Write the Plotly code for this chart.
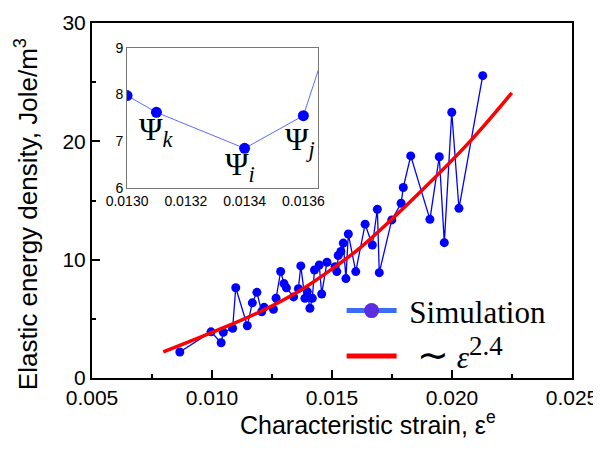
import plotly.graph_objects as go

# Simulation data (characteristic strain, elastic energy density)
strain = [0.00866, 0.00996, 0.01038, 0.01047, 0.01086, 0.01099, 0.01147, 0.01168,
          0.01187, 0.01207, 0.01217, 0.01256, 0.01267, 0.01286, 0.01300, 0.01310,
          0.01340, 0.01360, 0.01370, 0.01387, 0.01397, 0.01408, 0.01418, 0.01427,
          0.01447, 0.01457, 0.01479, 0.01513, 0.01520, 0.01526, 0.01537, 0.01547,
          0.01558, 0.01568, 0.01599, 0.01638, 0.01668, 0.01689, 0.01697, 0.01749,
          0.01788, 0.01797, 0.01828, 0.01908, 0.01947, 0.01968, 0.01999, 0.02029,
          0.02128]
energy = [2.2, 3.9, 2.98, 3.86, 4.2, 7.63, 4.42, 6.35,
          7.24, 5.6, 5.97, 5.8, 6.75, 9.0, 7.98, 7.62,
          6.85, 7.55, 9.47, 6.73, 7.3, 5.89, 6.73, 9.13,
          9.55, 7.1, 9.78, 9.41, 8.99, 10.35, 10.7, 11.4,
          8.4, 12.17, 8.99, 13.0, 11.24, 14.26, 8.9, 13.36,
          14.77, 16.1, 18.77, 13.41, 18.7, 11.44, 22.46, 14.34,
          25.55]

# Power-law fit curve
fit_strain = [0.00797, 0.0100, 0.0120, 0.01367, 0.01533, 0.01617, 0.01846, 0.02075, 0.02249]
fit_energy = [2.2, 3.85, 5.6, 7.4, 9.7, 11.0, 15.3, 20.0, 24.1]

x_ticks = [0.005, 0.010, 0.015, 0.020, 0.025]
y_ticks = [0, 10, 20, 30]
inset_x_ticks = [0.0130, 0.0132, 0.0134, 0.0136]
inset_y_ticks = [6, 7, 8, 9]

x_title = "Characteristic strain, ε<sup>e</sup>"
y_title = "Elastic energy density, Jole/m<sup>3</sup>"

# Inset labels
psi_labels = ["Ψ<sub><i>k</i></sub>", "Ψ<sub><i>i</i></sub>", "Ψ<sub><i>j</i></sub>"]
psi_x = [0.013100, 0.013385, 0.013590]
psi_y = [7.22, 6.46, 7.0]

fig = go.Figure()

fig.add_trace(go.Scatter(x=strain, y=energy, mode="lines+markers",
                         line=dict(color="#0000ff", width=1.3),
                         marker=dict(color="#0000ff", size=9),
                         showlegend=False))
fig.add_trace(go.Scatter(x=fit_strain, y=fit_energy, mode="lines",
                         line=dict(color="#ff0000", width=3.5, shape="spline"),
                         showlegend=False))
# inset
fig.add_trace(go.Scatter(x=strain, y=energy, mode="lines+markers",
                         xaxis="x2", yaxis="y2",
                         line=dict(color="#5a6cff", width=1),
                         marker=dict(color="#0000ff", size=11),
                         showlegend=False))
# legend entries
fig.add_trace(go.Scatter(x=[None], y=[None], mode="lines+markers", name=" Simulation",
                         legendgroup="a",
                         line=dict(color="#3b6ef5", width=5),
                         marker=dict(color="#5b2fe0", size=15)))
fig.add_trace(go.Scatter(x=[None], y=[None], mode="lines",
                         name="  <span style='font-size:38px'>∼</span> <i>ε</i><sup><span style='font-size:27px'>2.4</span></sup>",
                         legendgroup="b",
                         line=dict(color="#ff0000", width=5)))

for t, xx, yy in zip(psi_labels, psi_x, psi_y):
    fig.add_annotation(x=xx, y=yy, xref="x2", yref="y2", text=t, showarrow=False,
                       font=dict(family="Liberation Serif", size=32, color="black"))

# axis titles
fig.add_annotation(x=0.575, y=-0.127, xref="paper", yref="paper", text=x_title,
                   showarrow=False, xanchor="center", yanchor="middle",
                   font=dict(family="Liberation Sans", size=25, color="black"))
fig.add_annotation(x=-0.135, y=0.462, xref="paper", yref="paper", text=y_title,
                   showarrow=False, xanchor="center", yanchor="middle", textangle=-90,
                   font=dict(family="Liberation Sans", size=26, color="black"))

# The page adds an 8px body margin, so the figure is 8px smaller and margins shifted
fig.update_layout(
    template="none",
    width=593, height=442,
    margin=dict(l=84, r=29, t=15, b=72, autoexpand=False),
    paper_bgcolor="white", plot_bgcolor="white",
    font=dict(family="Liberation Sans", color="black"),
    xaxis=dict(range=[0.005, 0.025], tickvals=x_ticks, tickformat=".3f", automargin=False,
               ticks="inside", ticklen=8, tickwidth=1.5, tickcolor="black",
               minor=dict(dtick=0.0025, tick0=0.005, ticks="inside", ticklen=4, tickwidth=1.5, tickcolor="black"),
               showline=True, linecolor="black", linewidth=2, mirror=True,
               showgrid=False, zeroline=False, tickfont=dict(size=21)),
    yaxis=dict(range=[0, 30], tickvals=y_ticks, automargin=False,
               ticks="inside", ticklen=8, tickwidth=1.5, tickcolor="black",
               minor=dict(dtick=5, tick0=0, ticks="inside", ticklen=4, tickwidth=1.5, tickcolor="black"),
               showline=True, linecolor="black", linewidth=2, mirror=True,
               showgrid=False, zeroline=False, tickfont=dict(size=21)),
    xaxis2=dict(domain=[0.073, 0.471], anchor="y2", range=[0.0130, 0.01365], automargin=False,
                tickvals=inset_x_ticks, tickformat=".4f", ticks="",
                showline=True, linecolor="#777", linewidth=1, mirror=True,
                showgrid=False, zeroline=False, tickfont=dict(size=14)),
    yaxis2=dict(domain=[0.535, 0.93], anchor="x2", range=[6, 9], automargin=False,
                tickvals=inset_y_ticks, ticks="",
                showline=True, linecolor="#777", linewidth=1, mirror=True,
                showgrid=False, zeroline=False, tickfont=dict(size=14)),
    legend=dict(x=0.52, y=0.265, xanchor="left", yanchor="top",
                bgcolor="rgba(0,0,0,0)", font=dict(family="Liberation Serif", size=31),
                tracegroupgap=2, itemwidth=50),
)

fig.write_html("out.html")
